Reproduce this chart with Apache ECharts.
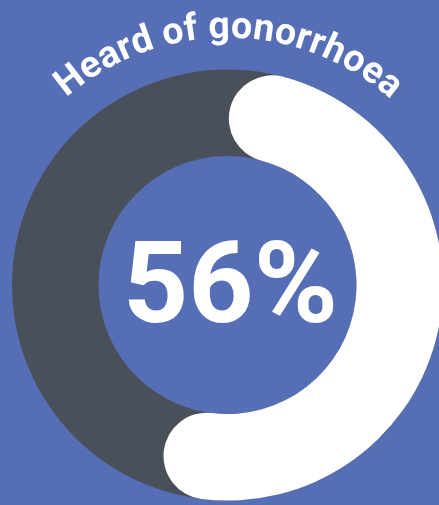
<!DOCTYPE html>
<html>
<head>
<meta charset="utf-8">
<script src="https://cdn.jsdelivr.net/npm/echarts@6/dist/echarts.min.js"></script>
<style>
html,body{margin:0;padding:0;background:#566eb6;}
#chart{width:439px;height:505px;}
</style>
</head>
<body>
<div id="chart"></div>
<script>
// ---- data ----
const titleText = 'Heard of gonorrhoea';
const percentValue = 56;
const maxValue = 100;

// ---- style ----
const bgColor = '#566eb6';
const trackColor = '#4a5059';
const barColor = '#ffffff';
const cx = 227.5, cy = 285;
const outerR = 215.5, ringW = 86.5;
const fontFamily = 'Roboto, "Liberation Sans", sans-serif';
const titleSize = 37.5;
const titleBaseR = 244;

const chart = echarts.init(document.getElementById('chart'), null, {renderer: 'canvas'});

// curved title: one text element per character along an arc
const ctx = document.createElement('canvas').getContext('2d');
ctx.font = 'bold ' + titleSize + 'px ' + fontFamily;
const widths = Array.from(titleText).map(ch => ctx.measureText(ch).width);
const total = widths.reduce((a, b) => a + b, 0);
const midR = titleBaseR + 0.34 * titleSize;
const centerAngle = 0.3 * Math.PI / 180;
let acc = 0;
const titleEls = Array.from(titleText).map((ch, i) => {
  const s = acc + widths[i] / 2;
  acc += widths[i];
  const phi = centerAngle + (s - total / 2) / titleBaseR;
  return {
    type: 'text',
    x: cx + midR * Math.sin(phi),
    y: cy - midR * Math.cos(phi),
    rotation: -phi,
    style: {
      text: ch, fill: '#ffffff', font: 'bold ' + titleSize + 'px ' + fontFamily,
      textAlign: 'center', textVerticalAlign: 'middle'
    },
    z: 10
  };
});

chart.setOption({
  backgroundColor: bgColor,
  graphic: titleEls,
  series: [
    {
      type: 'gauge',
      center: [cx, cy], radius: outerR,
      startAngle: 90, endAngle: -270,
      min: 0, max: maxValue,
      axisLine: {lineStyle: {width: ringW, color: [[1, trackColor]]}},
      axisTick: {show: false}, splitLine: {show: false}, axisLabel: {show: false},
      pointer: {show: false}, detail: {show: false}, title: {show: false},
      data: [{value: 0}], silent: true, animation: false
    },
    {
      type: 'gauge',
      center: [cx, cy], radius: outerR,
      startAngle: 75, endAngle: -232,
      min: 0, max: maxValue,
      progress: {show: true, roundCap: true, width: ringW, itemStyle: {color: barColor}},
      axisLine: {show: false, lineStyle: {width: ringW}},
      axisTick: {show: false}, splitLine: {show: false}, axisLabel: {show: false},
      pointer: {show: false}, title: {show: false},
      detail: {
        show: true, offsetCenter: [3, 8],
        formatter: '{value}%', color: '#ffffff',
        fontSize: 114, fontWeight: 'bold', fontFamily: fontFamily
      },
      data: [{value: percentValue}], animation: false
    }
  ]
});
</script>
</body>
</html>
